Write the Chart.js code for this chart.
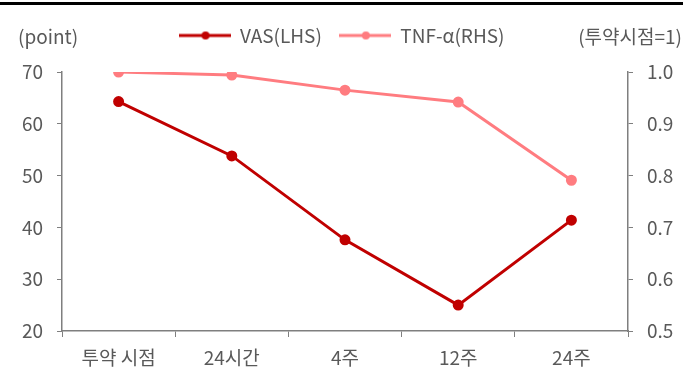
<!DOCTYPE html>
<html>
<head>
<meta charset="utf-8">
<script src="https://cdn.jsdelivr.net/npm/chart.js@4.4.1/dist/chart.umd.min.js"></script>
<style>
  html, body { margin: 0; padding: 0; background: #fff; }
  #wrap { width: 683px; height: 369px; position: relative; }
</style>
</head>
<body>
<div id="wrap"><canvas id="chart"></canvas></div>
<script>
// 데이터
const categories = ['투약 시점', '24시간', '4주', '12주', '24주'];
const vasValues = [64.3, 53.8, 37.6, 25.0, 41.4];
const tnfValues = [1.0, 0.994, 0.965, 0.942, 0.791];
const leftTicks = [20, 30, 40, 50, 60, 70];
const rightTicks = [0.5, 0.6, 0.7, 0.8, 0.9, 1.0];

const FONT = "'Noto Sans CJK KR', 'Noto Sans', sans-serif";
const FONT_SIZE = 19;
const TEXT = '#595959';
const AXIS = '#7f7f7f';
const DARK_RED = '#c00000';
const LIGHT_RED = '#ff7c80';

// 범례용 선+점 아이콘
function legendIcon(color) {
    const c = document.createElement('canvas');
    c.width = 52; c.height = 10;
    const g = c.getContext('2d');
    g.strokeStyle = color; g.lineWidth = 3;
    g.beginPath(); g.moveTo(0, 5); g.lineTo(52, 5); g.stroke();
    g.fillStyle = color;
    g.beginPath(); g.arc(27, 5, 4, 0, Math.PI * 2); g.fill();
    return c;
}

const headerPlugin = {
    id: 'header',
    beforeInit(chart) {
        // 범례 아래 여백 추가
        const legend = chart.legend;
        if (!legend) return;
        const fit = legend.fit.bind(legend);
        legend.fit = function () {
            fit();
            this.height += 17;
        };
    },
    afterDraw(chart) {
        const ctx = chart.ctx;
        ctx.save();
        ctx.fillStyle = '#000';
        ctx.fillRect(0, 2, chart.width, 3);
        ctx.fillStyle = TEXT;
        ctx.font = `${FONT_SIZE}px ${FONT}`;
        ctx.textBaseline = 'middle';
        ctx.textAlign = 'left';
        ctx.fillText('(point)', 18, 37);
        ctx.textAlign = 'right';
        ctx.fillText('(투약시점=1)', 682, 37);
        ctx.restore();
    }
};

function fixedWidth(w) {
    return scale => { scale.width = w; };
}

const tickFont = { family: FONT, size: FONT_SIZE };

new Chart(document.getElementById('chart'), {
    type: 'line',
    data: {
        labels: categories,
        datasets: [
            {
                label: 'VAS(LHS)',
                data: vasValues,
                yAxisID: 'y',
                borderColor: DARK_RED,
                backgroundColor: DARK_RED,
                borderWidth: 3,
                pointRadius: 4,
                pointHoverRadius: 4,
                tension: 0
            },
            {
                label: 'TNF-α(RHS)',
                data: tnfValues,
                yAxisID: 'y1',
                borderColor: LIGHT_RED,
                backgroundColor: LIGHT_RED,
                borderWidth: 3,
                pointRadius: 4,
                pointHoverRadius: 4,
                tension: 0
            }
        ]
    },
    options: {
        responsive: true,
        maintainAspectRatio: false,
        animation: false,
        layout: { padding: { top: 9, right: 0, bottom: 0, left: 0 } },
        plugins: {
            tooltip: { enabled: false },
            legend: {
                display: true,
                position: 'top',
                labels: {
                    usePointStyle: true,
                    pointStyleWidth: 52,
                    color: TEXT,
                    font: tickFont,
                    padding: 17,
                    generateLabels(chart) {
                        return chart.data.datasets.map((ds, i) => ({
                            text: ds.label,
                            fillStyle: ds.borderColor,
                            strokeStyle: ds.borderColor,
                            fontColor: TEXT,
                            pointStyle: legendIcon(ds.borderColor),
                            datasetIndex: i,
                            hidden: false,
                            lineWidth: 0
                        }));
                    }
                }
            }
        },
        scales: {
            x: {
                offset: true,
                afterFit: scale => { scale.height = 38; },
                grid: {
                    offset: true,
                    drawOnChartArea: false,
                    drawTicks: true,
                    tickLength: 6,
                    color: AXIS
                },
                border: { color: AXIS, width: 1.5 },
                ticks: { color: TEXT, font: tickFont, padding: 9, maxRotation: 0 }
            },
            y: {
                position: 'left',
                min: 20,
                max: 70,
                afterBuildTicks: s => { s.ticks = leftTicks.map(v => ({ value: v })); },
                afterFit: fixedWidth(62),
                grid: { drawOnChartArea: false, tickLength: 5, color: AXIS },
                border: { color: AXIS, width: 1.5 },
                ticks: { color: TEXT, font: tickFont, padding: 14 }
            },
            y1: {
                position: 'right',
                min: 0.5,
                max: 1.0,
                afterBuildTicks: s => { s.ticks = rightTicks.map(v => ({ value: v })); },
                afterFit: fixedWidth(55),
                grid: { drawOnChartArea: false, tickLength: 5, color: AXIS },
                border: { color: AXIS, width: 1.5 },
                ticks: {
                    color: TEXT,
                    font: tickFont,
                    padding: 14,
                    callback: v => Number(v).toFixed(1)
                }
            }
        }
    },
    plugins: [headerPlugin]
});
</script>
</body>
</html>
